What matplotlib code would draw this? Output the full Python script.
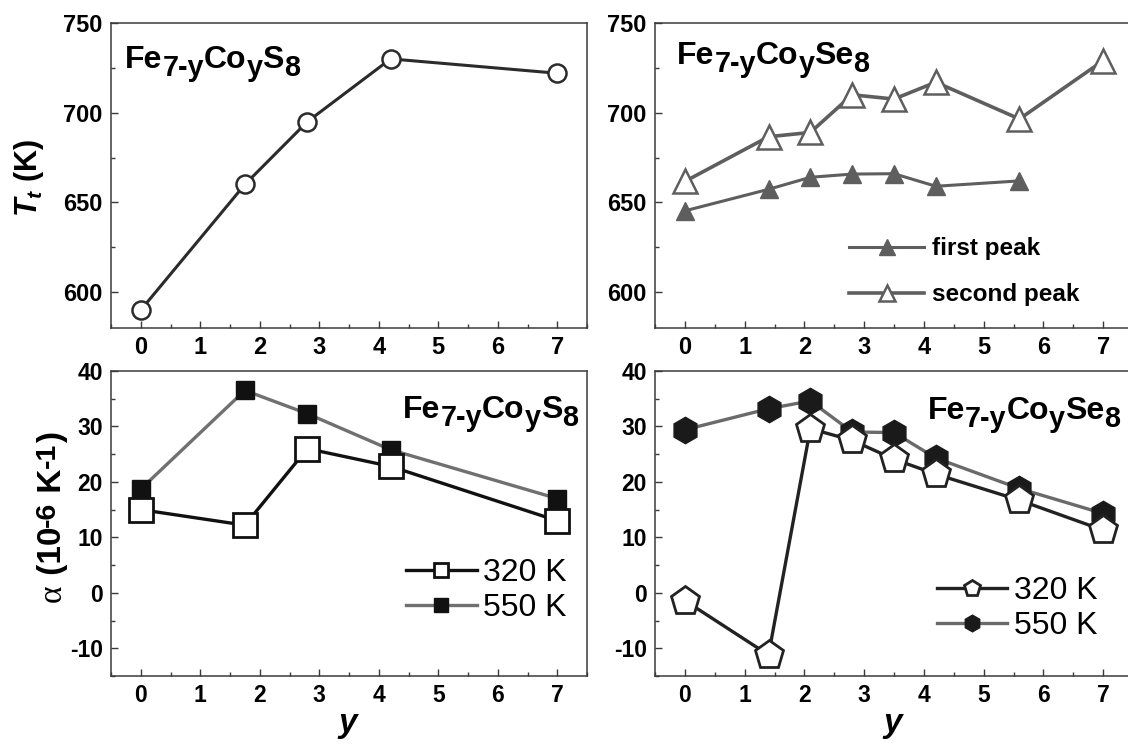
import numpy as np
import matplotlib.pyplot as plt
from matplotlib.ticker import AutoMinorLocator, MultipleLocator

plt.rcParams['font.family'] = ['Liberation Sans', 'DejaVu Sans']
plt.rcParams['mathtext.fontset'] = 'custom'
plt.rcParams['mathtext.rm'] = 'Liberation Sans:bold'
plt.rcParams['mathtext.it'] = 'Liberation Sans:italic:bold'
plt.rcParams['mathtext.bf'] = 'Liberation Sans:bold'
plt.rcParams['axes.unicode_minus'] = False

# Fe7-yCoyS8 data
y_s = [0, 1.75, 2.8, 4.2, 7]
tt_s = [590, 660, 695, 730, 722]
a320_s = [15.0, 12.2, 26.0, 22.8, 13.0]
a550_s = [18.7, 36.5, 32.3, 25.8, 17.0]

# Fe7-yCoySe8 data
y_se = [0, 1.4, 2.1, 2.8, 3.5, 4.2, 5.6, 7]
y_se_first = [0, 1.4, 2.1, 2.8, 3.5, 4.2, 5.6]
tt_first = [645.3, 657.3, 664, 665.8, 666, 659, 662]
tt_second = [661.7, 686.6, 689, 710, 707.6, 717, 696.5, 729]
a320_se = [-1.4, -11.2, 29.6, 27.5, 24.1, 21.4, 16.7, 11.3]
a550_se = [29.4, 33.2, 34.6, 29.0, 28.9, 24.3, 18.8, 14.3]

xticks = [0, 1, 2, 3, 4, 5, 6, 7]

# formula pieces: (text, is_subscript)
S_PIECES = [('Fe', False), ('7-y', True), ('Co', False), ('y', True), ('S', False), ('8', True)]
SE_PIECES = [('Fe', False), ('7-y', True), ('Co', False), ('y', True), ('Se', False), ('8', True)]
# alpha label pieces: (text, kind)
ALPHA_PIECES = [('α', 'greek'), (' (10', 'bold'), ('-6', 'sup'), (' K', 'bold'), ('-1', 'sup'), (')', 'bold')]

DARK = '#2b2b2b'
GRAY = '#5e5e5e'
SPINE = '#3a3a3a'

fig = plt.figure(figsize=(11.28, 7.49), dpi=100)
W, H = 1128, 749
renderer = fig.canvas.get_renderer()


def make_ax(x0, x1, ytop, ybot):
    return fig.add_axes([x0 / W, 1 - ybot / H, (x1 - x0) / W, (ybot - ytop) / H])


def formula(pieces, x, base, ha='left', size=23, sub_scale=0.9, sub_drop=8):
    """Writes a chemical formula with lowered subscripts, x/base in pixels from top-left"""
    texts = []
    for txt, sub in pieces:
        t = fig.text(0, 0, txt, fontsize=size * (sub_scale if sub else 1),
                     fontweight='bold', va='baseline', ha='left')
        texts.append((t, sub))
    widths = [t.get_window_extent(renderer).width for t, _ in texts]
    pos = x - sum(widths) if ha == 'right' else x
    for (t, sub), w in zip(texts, widths):
        yy = base + (sub_drop if sub else 0)
        t.set_position((pos / W, 1 - yy / H))
        pos += w


def vertical_label(pieces, base_x, center_y, size=24, sup_scale=0.85, sup_raise=6):
    """Rotated axis label built from pieces, baseline at base_x (pixels)"""
    texts = []
    for txt, kind in pieces:
        kw = dict(fontsize=size, fontweight='bold')
        if kind == 'greek':
            kw = dict(fontsize=size, family='Liberation Serif', fontweight='normal')
        elif kind == 'sup':
            kw['fontsize'] = size * sup_scale
        t = fig.text(0, 0, txt, rotation=90, rotation_mode='anchor',
                     ha='left', va='baseline', **kw)
        texts.append((t, kind))
    lengths = [t.get_window_extent(renderer).height for t, _ in texts]
    pos = center_y + sum(lengths) / 2
    for (t, kind), ln in zip(texts, lengths):
        xx = base_x - (sup_raise if kind == 'sup' else 0)
        t.set_position((xx / W, 1 - pos / H))
        pos -= ln


ax_tl = make_ax(111, 587, 23, 328)
ax_tr = make_ax(655, 1133, 23, 328)
ax_bl = make_ax(111, 587, 371, 676)
ax_br = make_ax(655, 1133, 371, 676)

for ax in (ax_tl, ax_tr):
    ax.set_ylim(580, 750)
    ax.yaxis.set_major_locator(MultipleLocator(50))
    ax.yaxis.set_minor_locator(MultipleLocator(25))
for ax in (ax_bl, ax_br):
    ax.set_ylim(-15, 40)
    ax.yaxis.set_major_locator(MultipleLocator(10))
    ax.yaxis.set_minor_locator(MultipleLocator(5))

for ax, lsize in ((ax_tl, 17), (ax_tr, 17), (ax_bl, 16.5), (ax_br, 16.5)):
    ax.set_xlim(-0.5, 7.5)
    ax.set_xticks(xticks)
    ax.xaxis.set_minor_locator(AutoMinorLocator(2))
    ax.tick_params(which='both', direction='in', top=False, right=False,
                   color=SPINE, width=1)
    ax.tick_params(which='major', length=5, labelsize=lsize, pad=6)
    ax.tick_params(which='minor', length=3)
    for lab in ax.get_xticklabels() + ax.get_yticklabels():
        lab.set_fontweight('bold')
    for sp in ax.spines.values():
        sp.set_color(SPINE)
        sp.set_linewidth(1.1)

# top left
ax_tl.plot(y_s, tt_s, '-o', color=DARK, lw=2.2, ms=13, mfc='white',
           mec=DARK, mew=1.8)
formula(S_PIECES, 125, 68)
ax_tl.set_ylabel(r'$T_{t}$ (K)', fontsize=22, fontweight='bold')
ax_tl.yaxis.set_label_coords(-0.137, 0.49)

# top right
ax_tr.plot(y_se_first, tt_first, '-^', color=GRAY, lw=2.2, ms=13, mfc=GRAY,
           mec=GRAY, label='first peak')
ax_tr.plot(y_se, tt_second, '-^', color=GRAY, lw=2.6, ms=17, mfc='white',
           mec=GRAY, mew=1.8, label='second peak')
formula(SE_PIECES, 677, 64)
leg = ax_tr.legend(loc='lower left', bbox_to_anchor=(0.36, 0.0), frameon=False,
                   prop={'weight': 'bold', 'size': 17.5},
                   handlelength=3.1, handletextpad=0.3, labelspacing=0.95)
for h in leg.legend_handles:
    h.set_markersize(11)

# bottom left
ax_bl.plot(y_s, a320_s, '-s', color='#111111', lw=2.4, ms=17, mfc='white',
           mec='#111111', mew=2, label='320 K', zorder=3)
ax_bl.plot(y_s, a550_s, '-s', color='#707070', lw=2.4, ms=13, mfc='#111111',
           mec='#111111', label='550 K', zorder=2)
formula(S_PIECES, 578, 418, ha='right')
leg = ax_bl.legend(loc='lower left', bbox_to_anchor=(0.56, 0.08), frameon=False,
                   prop={'size': 23}, handlelength=2.2,
                   handletextpad=0.2, labelspacing=0.15)
for h in leg.legend_handles:
    h.set_markersize(9.5)
vertical_label(ALPHA_PIECES, 61, 517)
ax_bl.set_xlabel(r'$y$', fontsize=24)
ax_bl.xaxis.labelpad = 2

# bottom right
ax_br.plot(y_se, a320_se, '-p', color='#222222', lw=2.4, ms=21, mfc='white',
           mec='#222222', mew=2, label='320 K', zorder=3)
ax_br.plot(y_se, a550_se, '-h', color='#6a6a6a', lw=2.4, ms=19, mfc='#1a1a1a',
           mec='#1a1a1a', label='550 K', zorder=2)
formula(SE_PIECES, 1120, 419, ha='right')
leg = ax_br.legend(loc='lower left', bbox_to_anchor=(0.53, 0.02), frameon=False,
                   prop={'size': 23}, handlelength=2.2,
                   handletextpad=0.2, labelspacing=0.15)
for h in leg.legend_handles:
    h.set_markersize(12)
ax_br.set_xlabel(r'$y$', fontsize=24)
ax_br.xaxis.labelpad = 2

plt.savefig('out.png', dpi=100)
